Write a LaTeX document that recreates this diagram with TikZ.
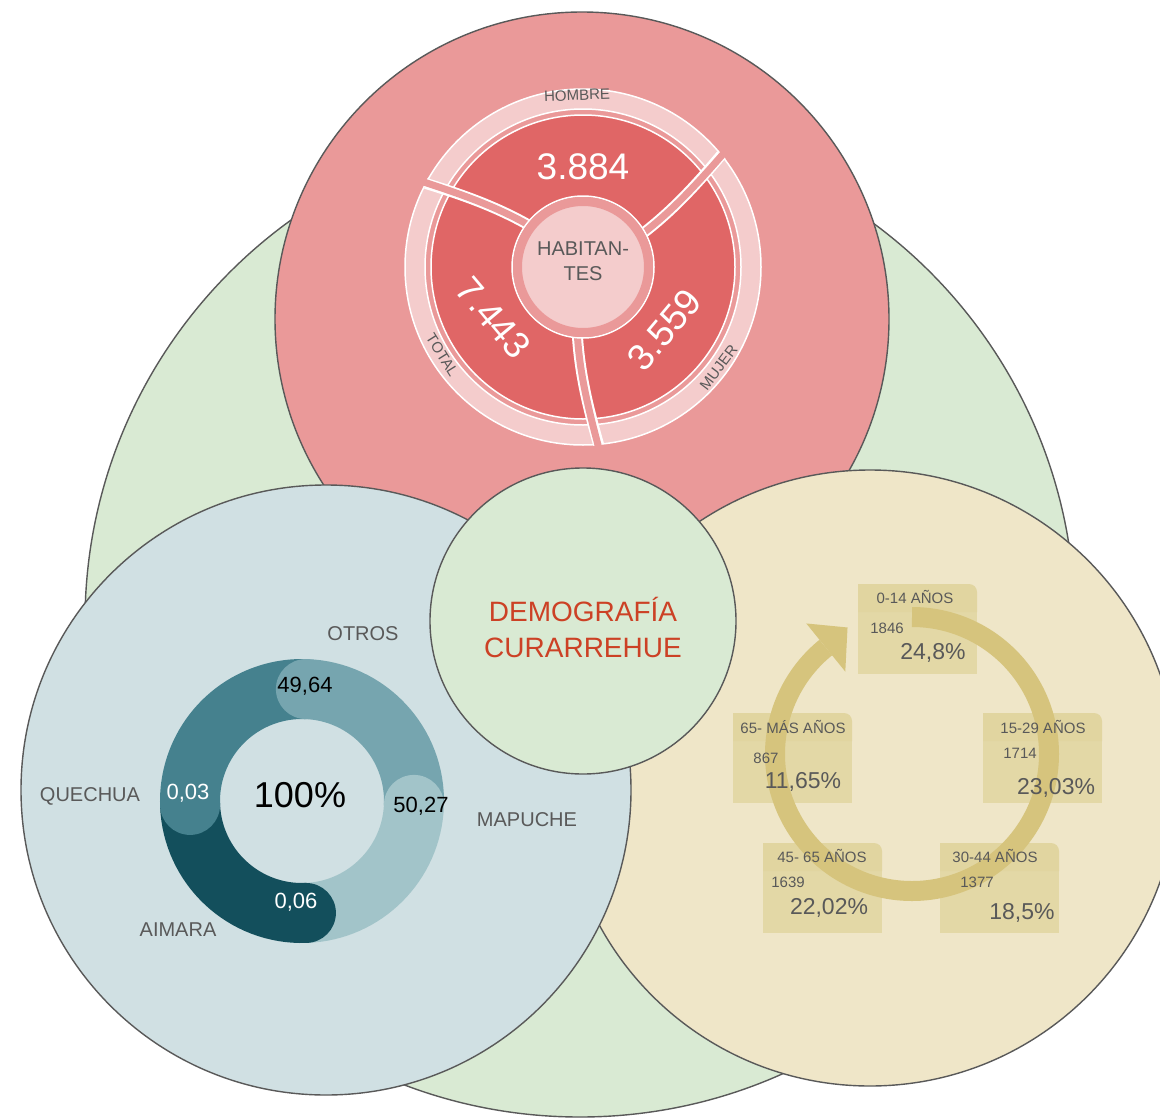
\documentclass[tikz,border=0pt]{standalone}
\usepackage{fontspec}
\setmainfont{Liberation Sans}
\definecolor{edgegray}{HTML}{595959}
\definecolor{inkgray}{HTML}{595959}
\definecolor{worldgreen}{HTML}{D9EAD3}
\definecolor{pieBack}{HTML}{EA9999}
\definecolor{pieRed}{HTML}{E06666}
\definecolor{pieLight}{HTML}{F4CCCC}
\definecolor{etniaBlue}{HTML}{D0E0E3}
\definecolor{edadYellow}{HTML}{EFE6C8}
\definecolor{otrosCol}{HTML}{76A5AF}
\definecolor{mapucheCol}{HTML}{A2C4C9}
\definecolor{aimaraCol}{HTML}{134F5C}
\definecolor{quechuaCol}{HTML}{45818E}
\definecolor{cycleCol}{HTML}{D6C47D}
\definecolor{boxBody}{HTML}{E3D8A6}
\definecolor{boxHead}{HTML}{E1D5A0}
\definecolor{titleRed}{HTML}{CC4125}

\begin{document}
\begin{tikzpicture}[x=1pt,y=1pt,
  bubble/.style={circle,draw=edgegray,line width=1.4pt,inner sep=0pt},
  ringlabel/.style={text=inkgray,font=\fontsize{15}{15}\selectfont,inner sep=0pt},
  bignum/.style={text=white,font=\fontsize{37}{37}\selectfont,inner sep=0pt},
  etnia/.style={text=inkgray,font=\fontsize{20}{20}\selectfont,inner sep=0pt},
  share/.style={font=\fontsize{22}{22}\selectfont,inner sep=0pt},
  agehead/.style={text=inkgray,font=\fontsize{15}{15}\selectfont,inner sep=0pt},
  agenum/.style={text=inkgray,font=\fontsize{15}{15}\selectfont,inner sep=0pt},
  agepct/.style={text=inkgray,font=\fontsize{23}{23}\selectfont,inner sep=0pt}]
    \useasboundingbox (0,0) rectangle (1160,-1119);
    \fill[white] (0,0) rectangle (1160,-1119);
    \clip (0,0) rectangle (1160,-1119);
    % Background bubbles
    \node[bubble,fill=worldgreen,minimum size=990] (world) at (580,-622) {};
    \node[bubble,fill=pieBack,minimum size=614] (habitantes) at (582,-319) {};
    \node[bubble,fill=edadYellow,minimum size=616] (edades) at (870,-778) {};
    \node[bubble,fill=etniaBlue,minimum size=610] (etnias) at (326,-790) {};
    \node[bubble,fill=worldgreen,minimum size=306] (centro) at (583,-621) {};
    \node[text=titleRed,align=center,font=\fontsize{28}{36}\selectfont] (titulo)
      at (583,-627) {DEMOGRAFÍA\\CURARREHUE};

    % Habitantes pie
    \begin{scope}[shift={(583,-267)}]
      \filldraw[fill=pieRed,draw=white,line width=1.5pt] (0,0) circle (152);
      \fill[pieLight,even odd rule] (0,0) circle (178) circle (158);
      \draw[white,line width=1.5pt] (0,0) circle (178) (0,0) circle (158);
      \foreach \a in {142,29,-95}{
        \draw[white,line width=11pt] (\a:66) .. controls (\a+3:105) and (\a+7:140) .. (\a+10:178);
        \draw[pieBack,line width=7pt] (\a:66) .. controls (\a+3:105) and (\a+7:140) .. (\a+10:182);
      }
      \draw[white,line width=1.5pt,fill=pieBack] (0,0) circle (71);
      \filldraw[fill=pieLight,draw=pieBack,line width=9pt] (0,0) circle (65.5);
      \node[text=inkgray,align=center,font=\fontsize{20}{25}\selectfont] (hab) at (0,6) {HABITAN-\\TES};
      \node[bignum] (hombreNum) at (90:100) {3.884};
      \node[bignum,rotate=-50] (totalNum) at (209.5:103) {7.443};
      \node[bignum,rotate=50] (mujerNum) at (-37.5:103) {3.559};
      \node[ringlabel,rotate=2] (hombre) at (92:172) {HOMBRE};
      \node[ringlabel,rotate=-58] (total) at (212:166) {TOTAL};
      \node[ringlabel,rotate=53] (mujer) at (-36.6:169) {MUJER};
    \end{scope}

    % Etnias donut
    \begin{scope}[shift={(302,-801)}]
      \draw[quechuaCol,line width=60pt] (182:112) arc[start angle=182,end angle=88,radius=112];
      \draw[otrosCol,line width=60pt] (88:112) arc[start angle=88,end angle=-2,radius=112];
      \draw[mapucheCol,line width=60pt] (-2:112) arc[start angle=-2,end angle=-88,radius=112];
      \draw[aimaraCol,line width=60pt] (-88:112) arc[start angle=-88,end angle=-178,radius=112];
      \fill[quechuaCol] (182:112) circle (30);
      \fill[otrosCol] (88:112) circle (30);
      \fill[mapucheCol] (-2:112) circle (30);
      \fill[aimaraCol] (-88:112) circle (30);
    \end{scope}
    \node[font=\fontsize{36}{36}\selectfont,inner sep=0pt] (cien) at (300,-795) {100\%};
    \node[share] (otrosNum) at (305,-686) {49,64};
    \node[share] (mapucheNum) at (421,-806) {50,27};
    \node[share,text=white] (aimaraNum) at (296,-902) {0,06};
    \node[share,text=white] (quechuaNum) at (188,-793) {0,03};
    \node[etnia] (otros) at (363,-634) {OTROS};
    \node[etnia] (quechua) at (90,-796) {QUECHUA};
    \node[etnia] (mapuche) at (527,-820) {MAPUCHE};
    \node[etnia] (aimara) at (178,-930) {AIMARA};

    % Edades cycle
    \foreach \bx/\by in {858/584,983/713,940/843,763/843,733/713}{
      \fill[boxBody] (\bx,-\by-28) rectangle (\bx+119,-\by-90);
      \fill[boxHead] (\bx,-\by-28) -- (\bx,-\by) -- (\bx+111,-\by)
        arc[start angle=90,end angle=0,radius=8] -- (\bx+119,-\by-28) -- cycle;
    }
    \begin{scope}[shift={(912,-754)}]
      \draw[cycleCol,line width=20pt] (90:137) arc[start angle=90,end angle=-231,radius=137];
      \fill[cycleCol] (129:106) -- (129:168) -- (117:142) -- cycle;
    \end{scope}
    \node[agehead] (e0h) at (915,-597) {0-14 AÑOS};
    \node[agenum] (e0n) at (887,-628) {1846};
    \node[agepct] (e0p) at (933,-653) {24,8\%};
    \node[agehead] (e1h) at (1043,-727) {15-29 AÑOS};
    \node[agenum] (e1n) at (1020,-753) {1714};
    \node[agepct] (e1p) at (1056,-788) {23,03\%};
    \node[agehead] (e2h) at (995,-856) {30-44 AÑOS};
    \node[agenum] (e2n) at (977,-882) {1377};
    \node[agepct] (e2p) at (1022,-913) {18,5\%};
    \node[agehead] (e3h) at (822,-856) {45- 65 AÑOS};
    \node[agenum] (e3n) at (788,-882) {1639};
    \node[agepct] (e3p) at (829,-908) {22,02\%};
    \node[agehead] (e4h) at (793,-727) {65- MÁS AÑOS};
    \node[agenum] (e4n) at (766,-758) {867};
    \node[agepct] (e4p) at (803,-782) {11,65\%};
\end{tikzpicture}
\end{document}
